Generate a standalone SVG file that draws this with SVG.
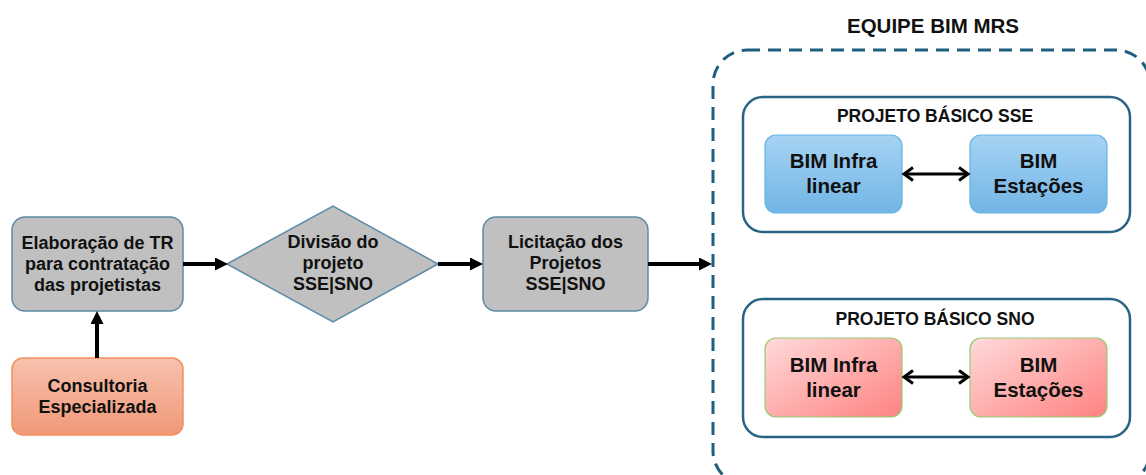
<svg xmlns="http://www.w3.org/2000/svg" width="1146" height="475" viewBox="0 0 1146 475">
<defs>
<style>
.t{font-family:"Liberation Sans",Arial,sans-serif;font-weight:bold;fill:#111;text-anchor:middle}
.m{font-size:18px}
.b{font-size:20.5px}
.p{font-size:17.5px}
.grey{fill:#c0c0c0;stroke:#5b8aa6;stroke-width:1.5}
.panel{fill:#fff;stroke:#2a6485;stroke-width:2.5}
.flow{stroke:#000;stroke-width:4;fill:none}
.dbl{stroke:#000;stroke-width:3;fill:none}
</style>
<linearGradient id="gOr" x1="0" y1="0" x2="0" y2="1"><stop offset="0" stop-color="#f7c2ae"/><stop offset="1" stop-color="#f19878"/></linearGradient>
<linearGradient id="gBl" x1="0" y1="0" x2="0" y2="1"><stop offset="0" stop-color="#a6d3f3"/><stop offset="1" stop-color="#72b5e5"/></linearGradient>
<linearGradient id="gRd" x1="0" y1="0" x2="1" y2="1"><stop offset="0" stop-color="#ffdada"/><stop offset="1" stop-color="#ff8282"/></linearGradient>
<marker id="ah" markerUnits="userSpaceOnUse" markerWidth="14" markerHeight="14" refX="2" refY="6.5" orient="auto"><path d="M0,0 L13,6.5 L0,13 z" fill="#000"/></marker>
<marker id="ch" markerUnits="userSpaceOnUse" markerWidth="14" markerHeight="18" refX="11" refY="8" orient="auto-start-reverse"><path d="M2,1.5 L11,8 L2,14.5" fill="none" stroke="#000" stroke-width="3"/></marker>
</defs>

<g id="elaboracao">
<rect class="grey" x="12" y="217" width="171" height="94" rx="13"/>
<text class="t m" x="97.5" y="249">Elaboração de TR</text>
<text class="t m" x="97.5" y="270">para contratação</text>
<text class="t m" x="97.5" y="291">das projetistas</text>
</g>

<g id="consultoria">
<rect x="12" y="358" width="171" height="77" rx="11" fill="url(#gOr)" stroke="#f29060" stroke-width="1.5"/>
<text class="t m" x="97.5" y="392">Consultoria</text>
<text class="t m" x="97.5" y="413">Especializada</text>
</g>

<g id="divisao">
<polygon class="grey" points="227,264 333,206 438,264 333,322"/>
<text class="t m" x="333" y="248">Divisão do</text>
<text class="t m" x="333" y="269">projeto</text>
<text class="t m" x="333" y="290">SSE|SNO</text>
</g>

<g id="licitacao">
<rect class="grey" x="483" y="217" width="165" height="94" rx="13"/>
<text class="t m" x="565.5" y="248">Licitação dos</text>
<text class="t m" x="565.5" y="269">Projetos</text>
<text class="t m" x="565.5" y="290">SSE|SNO</text>
</g>

<g id="equipe">
<rect x="713" y="50" width="437" height="435" rx="34" fill="none" stroke="#1e5e7e" stroke-width="3" stroke-dasharray="13 8"/>
<text class="t" style="font-size:20.5px" x="933" y="33">EQUIPE BIM MRS</text>
</g>

<g id="sse">
<rect class="panel" x="743" y="97" width="387" height="135" rx="20"/>
<text class="t p" x="935" y="122">PROJETO BÁSICO SSE</text>
</g>
<g id="sse-infra">
<rect x="765" y="135" width="137" height="78" rx="11" fill="url(#gBl)" stroke="#64b4e6" stroke-width="1.2"/>
<text class="t b" x="833.5" y="168">BIM Infra</text>
<text class="t b" x="833.5" y="193">linear</text>
</g>
<g id="sse-estacoes">
<rect x="970" y="135" width="137" height="78" rx="11" fill="url(#gBl)" stroke="#64b4e6" stroke-width="1.2"/>
<text class="t b" x="1038.5" y="168">BIM</text>
<text class="t b" x="1038.5" y="193">Estações</text>
</g>

<g id="sno">
<rect class="panel" x="743" y="299" width="387" height="138" rx="20"/>
<text class="t p" x="935" y="325">PROJETO BÁSICO SNO</text>
</g>
<g id="sno-infra">
<rect x="765" y="338" width="137" height="79" rx="11" fill="url(#gRd)" stroke="#96cc74" stroke-width="1.2"/>
<text class="t b" x="833.5" y="372">BIM Infra</text>
<text class="t b" x="833.5" y="397">linear</text>
</g>
<g id="sno-estacoes">
<rect x="970" y="338" width="137" height="79" rx="11" fill="url(#gRd)" stroke="#96cc74" stroke-width="1.2"/>
<text class="t b" x="1038.5" y="372">BIM</text>
<text class="t b" x="1038.5" y="397">Estações</text>
</g>

<g id="connectors">
<line class="flow" x1="97" y1="358" x2="97" y2="322" marker-end="url(#ah)"/>
<line class="flow" x1="183" y1="264" x2="217" y2="264" marker-end="url(#ah)"/>
<line class="flow" x1="438" y1="264" x2="472" y2="264" marker-end="url(#ah)"/>
<line class="flow" x1="648" y1="264" x2="701" y2="264" marker-end="url(#ah)"/>
<line class="dbl" x1="904" y1="174" x2="968" y2="174" marker-start="url(#ch)" marker-end="url(#ch)"/>
<line class="dbl" x1="904" y1="377" x2="968" y2="377" marker-start="url(#ch)" marker-end="url(#ch)"/>
</g>
</svg>
